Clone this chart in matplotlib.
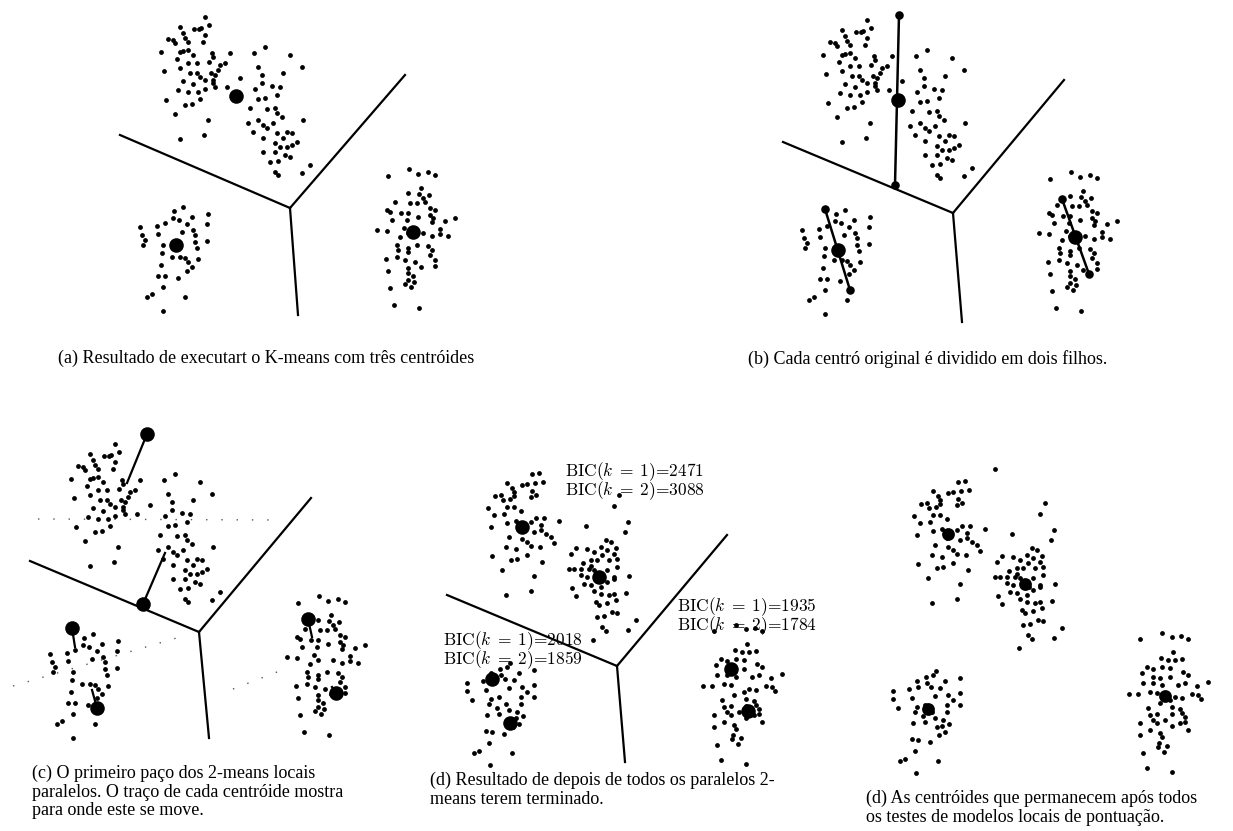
import numpy as np
import matplotlib
matplotlib.use('Agg')
import matplotlib.pyplot as plt

plt.rcParams['mathtext.fontset'] = 'cm'

# point clouds of the first stage in image pixels
tl_x = [205,209,180,194,199,201,183,205,168,173,185,188,203,175,161,180,183,188,193,212,
        213,177,188,197,209,164,180,190,197,200,211,215,220,225,218,183,193,205,213,178,
        188,198,205,215,166,185,192,200,175,208,204,180,230,213]
tl_y = [17,25,27,29,29,28,33,35,39,40,38,42,42,43,52,52,51,50,55,53,
        57,59,63,63,62,71,68,73,73,77,73,75,65,63,70,81,84,80,80,90,
        92,92,89,87,100,105,104,99,114,120,135,139,53,83]
tm_x = [265,254,290,302,258,262,283,240,262,227,255,272,280,277,258,265,250,267,275,277,
        282,303,248,258,263,267,273,253,263,277,287,292,283,297,275,280,287,292,263,275,
        285,290,270,278,275,278,302,310]
tm_y = [47,53,55,67,67,75,73,78,83,87,89,86,87,95,99,98,108,109,108,113,
        117,120,123,120,125,128,123,132,138,133,132,133,138,142,143,147,147,145,152,152,
        155,157,162,161,172,175,173,165]
bl_x = [183,174,173,179,192,208,140,157,165,207,187,193,182,142,145,158,195,143,163,195,
        207,197,162,172,180,185,188,192,198,161,187,158,165,178,163,152,147,185,163]
bl_y = [207,211,218,220,217,214,227,226,223,224,224,230,232,235,240,234,235,245,245,242,
        241,248,253,257,257,258,262,267,259,265,271,276,276,278,287,294,297,297,311]
br_x = [409,388,418,428,435,421,408,419,423,429,395,410,417,425,387,390,401,408,430,435,
        418,430,433,392,407,432,445,455,377,387,404,408,423,432,440,448,440,400,417,397,
        408,428,432,398,408,430,435,386,405,415,397,421,408,435,388,408,413,408,405,414,
        411,390,394,419]
br_y = [169,176,174,172,175,188,193,194,198,195,202,203,203,202,210,212,213,213,208,210,
        217,215,218,220,220,222,221,218,230,231,228,233,233,236,234,236,229,237,245,245,
        248,246,250,250,252,255,260,259,260,262,257,267,268,266,271,273,276,280,284,282,
        287,288,305,308]

# point clouds of the final stage
e_tl_x = [958,965,933,948,953,961,969,938,940,921,927,940,958,962,957,929,933,940,914,930,
          947,920,962,970,985,933,942,957,967,917,950,967,960,972,977,935,948,953,980,932,
          942,957,966,918,937,943,953,968,928,960,932,957,936,947]
e_tl_y = [482,481,491,493,492,491,490,496,500,504,503,504,499,503,505,508,515,515,516,522,
          519,523,526,526,529,531,529,530,533,535,535,538,540,542,545,545,547,550,551,555,
          557,554,555,564,568,567,563,570,578,584,603,599,507,538]
e_tm_x = [1045,1040,1054,1051,1012,1032,1037,1042,1027,1033,997,1002,1013,1020,1028,1040,1017,1023,1009,1035,
          1043,1000,995,1007,1015,1020,1033,1043,1007,1013,1040,1055,1010,1017,1027,1033,1040,998,1002,1020,
          1027,1035,1040,1052,1022,1033,1042,1025,1038,1043,1023,1030,1028,1032,1054,1062,1019,1017,1029]
e_tm_y = [503,514,530,540,534,548,550,556,555,558,562,556,557,560,563,562,568,568,571,568,
          567,577,577,577,577,578,578,575,583,585,585,584,592,593,595,590,587,596,604,599,
          602,603,602,601,610,611,608,613,620,621,625,624,635,639,638,628,648,574,587]
e_bl_x = [936,933,926,917,927,945,960,893,909,918,931,940,893,912,935,948,960,898,917,925,
          947,953,915,932,947,960,923,935,943,949,913,942,945,925,937,912,918,930,939,915,
          900,905,938,916]
e_bl_y = [671,675,677,681,683,681,678,691,689,687,687,688,699,698,696,695,693,708,707,705,
          705,700,712,712,712,705,716,718,720,724,723,726,732,722,727,739,740,742,735,751,
          761,759,761,773]
e_br_x = [1162,1172,1181,1188,1140,1173,1161,1168,1175,1182,1147,1153,1162,1170,1142,1153,1160,1170,1183,1188,
          1143,1153,1162,1178,1185,1197,1208,1129,1138,1150,1157,1175,1182,1192,1198,1201,1170,1160,1148,1172,
          1180,1157,1150,1172,1182,1185,1140,1157,1165,1172,1185,1150,1160,1188,1140,1162,1159,1158,1167,1164,
          1143,1147,1172,1153,1180]
e_br_y = [633,637,636,639,639,652,658,660,660,659,667,669,667,668,673,677,678,677,672,675,
          683,683,685,685,683,686,682,694,694,692,693,697,698,694,695,699,700,703,708,707,
          709,714,715,714,713,717,723,723,720,726,722,730,733,730,735,737,743,747,746,752,
          753,768,772,720,723]
e_outlier = [(995, 469)]

# where each panel sits relative to the panel its cloud was read from
first_shift = {'a': (0, 0), 'b': (662, 3), 'c': (-90, 427)}
final_shift = {'d': (-426, -8), 'e': (0, 0)}

# boundaries: junction + arm ends
junction = {'a': (290, 208), 'b': (953, 213), 'c': (199, 632), 'd': (617, 666)}
arm_ends = {'a': [(120, 135), (405, 75), (298, 315)],
            'b': [(783, 142), (1064, 80), (962, 322)],
            'c': [(30, 561), (311, 498), (209, 738)],
            'd': [(447, 595), (727, 535), (625, 762)]}

big_centers = {'a': [(236, 96), (176, 245), (413, 232)],
               'b': [(898, 100), (838, 250), (1075, 237)],
               'c': [(147, 434), (143, 604), (72, 628), (97, 708), (308, 619), (336, 693)],
               'd': [(522, 527), (599, 577), (492, 679), (510, 723), (731, 669), (748, 711)],
               'e': [(948, 534), (1025, 584), (928, 709), (1165, 696)]}

# children of the split (b) and first 2-means step (c)
split_lines = [((899, 15), (895, 185)), ((825, 209), (850, 290)), ((1062, 199), (1089, 274))]
step_lines = [((147, 434), (127, 483)), ((143, 604), (165, 553)), ((72, 628), (75, 647)),
              ((97, 708), (92, 690)), ((308, 619), (312, 637)), ((336, 693), (332, 687))]
dotted_lines = [((38, 519), (280, 520)), ((13, 686), (180, 637)), ((233, 689), (290, 667))]

# BIC labels: k=1 line, k=2 line, x, top
bic_labels = [('BIC($k\\;=\\;1$)=2471', 'BIC($k\\;=\\;2$)=3088', 565, 460),
              ('BIC($k\\;=\\;1$)=1935', 'BIC($k\\;=\\;2$)=1784', 677, 595),
              ('BIC($k\\;=\\;1$)=2018', 'BIC($k\\;=\\;2$)=1859', 443, 629)]

captions = [('(a) Resultado de executart o K-means com três centróides', 58, 350),
            ('(b) Cada centró original é dividido em dois filhos.', 748, 350),
            ('(c) O primeiro paço dos 2-means locais\nparalelos. O traço de cada centróide mostra\npara onde este se move.', 32, 765),
            ('(d) Resultado de depois de todos os paralelos 2-\nmeans terem terminado.', 430, 772),
            ('(d) As centróides que permanecem após todos\nos testes de modelos locais de pontuação.', 866, 790)]

W, H = 1233, 831
fig = plt.figure(figsize=(W / 100, H / 100), dpi=100)
ax = fig.add_axes([0, 0, 1, 1])
ax.set_xlim(0, W)
ax.set_ylim(H, 0)
ax.axis('off')

px = np.array(tl_x + tm_x + bl_x + br_x, dtype=float)
py = np.array(tl_y + tm_y + bl_y + br_y, dtype=float)
qx = np.array(e_tl_x + e_tm_x + e_bl_x + e_br_x, dtype=float)
qy = np.array(e_tl_y + e_tm_y + e_bl_y + e_br_y, dtype=float)

for key, (dx, dy) in first_shift.items():
    ax.scatter(px + dx, py + dy, s=12, c='black', lw=0, zorder=3)
for key, (dx, dy) in final_shift.items():
    ax.scatter(qx + dx, qy + dy, s=12, c='black', lw=0, zorder=3)
ax.scatter([p[0] for p in e_outlier], [p[1] for p in e_outlier], s=12, c='black', lw=0)

for key, pts in big_centers.items():
    ax.scatter([p[0] for p in pts], [p[1] for p in pts], s=110 if key != 'e' else 85,
               c='black', lw=0, zorder=4)

for key, (jx, jy) in junction.items():
    for ex, ey in arm_ends[key]:
        ax.plot([jx, ex], [jy, ey], color='black', lw=1.6, zorder=2)

for (x0, y0), (x1, y1) in split_lines:
    ax.plot([x0, x1], [y0, y1], color='black', lw=1.8, zorder=3)
    ax.scatter([x0, x1], [y0, y1], s=38, c='black', lw=0, zorder=4)

for (x0, y0), (x1, y1) in step_lines:
    ax.plot([x0, x1], [y0, y1], color='black', lw=1.6, zorder=3)

for (x0, y0), (x1, y1) in dotted_lines:
    ax.plot([x0, x1], [y0, y1], color='#555555', lw=1.0, ls=(0, (1, 10)), zorder=1)

for l1, l2, x, y in bic_labels:
    ax.text(x, y, l1 + '\n' + l2, fontsize=12.5, family='cmr10', va='top', ha='left',
            linespacing=0.76, zorder=5)

for txt, x, y in captions:
    ax.text(x, y, txt, fontsize=13, family='Liberation Serif', va='top', ha='left',
            linespacing=1.12)

fig.savefig('out.png', dpi=100)
